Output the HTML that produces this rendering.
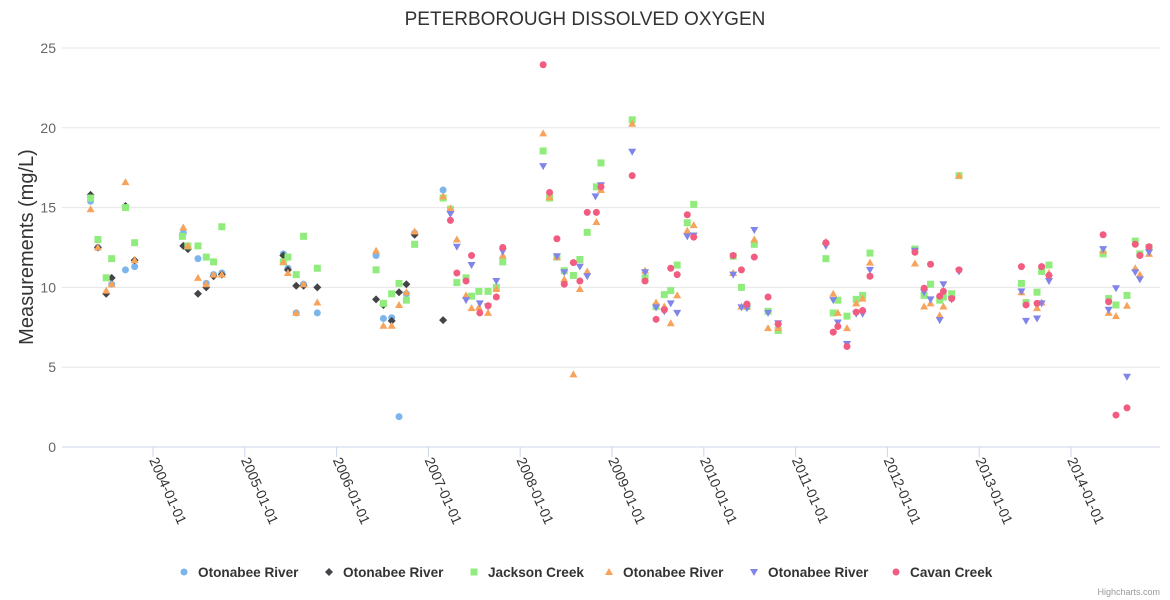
<!DOCTYPE html>
<html><head><meta charset="utf-8"><style>
body{margin:0;background:#fff;}
svg{display:block;font-family:"Liberation Sans",sans-serif;}
</style></head><body>
<svg id="chart" width="1170" height="600">
<text x="585" y="25" text-anchor="middle" font-size="19" fill="#333">PETERBOROUGH DISSOLVED OXYGEN</text>
<text transform="translate(33,247) rotate(-90)" text-anchor="middle" font-size="20" fill="#333">Measurements (mg/L)</text>
<g id="grid"></g><g id="xaxis"></g><g id="marks"></g><g id="legend"></g>
<text x="1160" y="595" text-anchor="end" font-size="9" fill="#999">Highcharts.com</text>
</svg>
<script>
const yTicks=[0,5,10,15,20,25];
const xTickYears=[2004,2005,2006,2007,2008,2009,2010,2011,2012,2013,2014];
const seriesNames=["Otonabee River","Otonabee River","Jackson Creek","Otonabee River","Otonabee River","Cavan Creek"];
const s0=[[2003.32,15.4],[2003.40,12.5],[2003.55,10.2],[2003.70,11.1],[2003.80,11.3],[2004.33,13.4],[2004.49,11.8],[2004.58,10.25],[2004.66,10.8],[2004.75,10.9],[2005.42,12.1],[2005.47,11.2],[2005.56,8.4],[2005.64,10.2],[2005.79,8.4],[2006.43,12.0],[2006.51,8.05],[2006.60,8.1],[2006.68,1.9],[2006.76,9.6],[2006.85,13.4],[2007.16,16.1]];
const s1=[[2003.32,15.8],[2003.40,12.5],[2003.49,9.6],[2003.55,10.6],[2003.70,15.1],[2003.80,11.7],[2004.33,12.6],[2004.38,12.4],[2004.49,9.6],[2004.58,10.0],[2004.66,10.7],[2004.75,10.8],[2005.42,12.0],[2005.47,11.1],[2005.56,10.1],[2005.64,10.1],[2005.79,10.0],[2006.43,9.25],[2006.51,8.9],[2006.60,7.9],[2006.68,9.7],[2006.76,10.2],[2006.85,13.3],[2007.16,7.95]];
const s2=[[2003.32,15.6],[2003.40,13.0],[2003.49,10.6],[2003.55,11.8],[2003.70,15.0],[2003.80,12.8],[2004.32,13.2],[2004.38,12.6],[2004.49,12.6],[2004.58,11.9],[2004.66,11.6],[2004.75,13.8],[2005.42,11.6],[2005.47,11.9],[2005.56,10.8],[2005.64,13.2],[2005.79,11.2],[2006.43,11.1],[2006.51,9.0],[2006.60,9.6],[2006.68,10.25],[2006.76,9.2],[2006.85,12.7],[2007.16,15.6],[2007.24,14.9],[2007.31,10.3],[2007.41,10.6],[2007.47,9.45],[2007.55,9.75],[2007.65,9.75],[2007.74,10.0],[2007.81,11.6],[2008.25,18.55],[2008.32,15.6],[2008.40,11.9],[2008.48,11.05],[2008.58,10.75],[2008.65,11.75],[2008.73,13.45],[2008.83,16.3],[2008.88,17.8],[2009.22,20.5],[2009.36,10.6],[2009.48,8.8],[2009.57,9.55],[2009.64,9.8],[2009.71,11.4],[2009.82,14.05],[2009.89,15.2],[2010.32,11.95],[2010.41,10.0],[2010.47,8.8],[2010.55,12.7],[2010.70,8.5],[2010.81,7.3],[2011.33,11.8],[2011.41,8.4],[2011.46,9.2],[2011.56,8.2],[2011.66,9.25],[2011.73,9.5],[2011.81,12.15],[2012.30,12.4],[2012.40,9.5],[2012.47,10.2],[2012.57,9.2],[2012.61,9.4],[2012.70,9.6],[2012.78,17.0],[2013.46,10.25],[2013.51,9.05],[2013.63,9.7],[2013.68,11.0],[2013.76,11.4],[2014.35,12.1],[2014.41,9.3],[2014.49,8.9],[2014.61,9.5],[2014.70,12.9],[2014.75,12.1],[2014.85,12.5]];
const s3=[[2003.32,14.9],[2003.40,12.5],[2003.49,9.8],[2003.55,10.2],[2003.70,16.6],[2003.80,11.7],[2004.33,13.75],[2004.38,12.6],[2004.49,10.6],[2004.58,10.2],[2004.66,10.8],[2004.75,10.8],[2005.42,11.6],[2005.47,10.9],[2005.56,8.4],[2005.64,10.2],[2005.79,9.05],[2006.43,12.3],[2006.51,7.6],[2006.60,7.6],[2006.68,8.9],[2006.76,9.7],[2006.85,13.5],[2007.16,15.7],[2007.24,14.95],[2007.31,13.0],[2007.41,9.5],[2007.47,8.7],[2007.55,8.75],[2007.65,8.4],[2007.74,9.9],[2007.81,12.0],[2008.25,19.65],[2008.32,15.65],[2008.40,11.9],[2008.48,10.5],[2008.58,4.55],[2008.65,9.9],[2008.73,11.0],[2008.83,14.1],[2008.88,16.1],[2009.22,20.25],[2009.36,11.05],[2009.48,9.05],[2009.57,8.8],[2009.64,7.75],[2009.71,9.5],[2009.82,13.55],[2009.89,13.9],[2010.32,10.9],[2010.41,8.8],[2010.47,8.8],[2010.55,13.0],[2010.70,7.45],[2010.81,7.45],[2011.33,12.85],[2011.41,9.6],[2011.46,8.4],[2011.56,7.45],[2011.66,9.0],[2011.73,9.3],[2011.81,11.55],[2012.30,11.5],[2012.40,8.8],[2012.47,9.0],[2012.57,8.25],[2012.61,8.8],[2012.78,17.0],[2013.46,9.7],[2013.63,8.7],[2013.68,9.05],[2013.76,10.9],[2014.35,12.3],[2014.41,8.4],[2014.49,8.2],[2014.61,8.85],[2014.70,11.2],[2014.75,10.8],[2014.85,12.1]];
const s4=[[2007.24,14.6],[2007.31,12.55],[2007.41,9.2],[2007.47,11.4],[2007.56,9.0],[2007.65,8.8],[2007.74,10.4],[2007.81,12.25],[2008.25,17.6],[2008.40,11.95],[2008.48,10.95],[2008.65,11.3],[2008.73,10.7],[2008.82,15.7],[2008.88,16.4],[2009.22,18.5],[2009.36,10.95],[2009.48,8.75],[2009.57,8.5],[2009.64,9.0],[2009.71,8.4],[2009.82,13.2],[2009.89,13.25],[2010.32,10.8],[2010.41,8.75],[2010.47,8.7],[2010.55,13.6],[2010.70,8.4],[2010.81,7.75],[2011.33,12.6],[2011.41,9.2],[2011.46,7.8],[2011.56,6.45],[2011.66,8.35],[2011.73,8.35],[2011.81,11.1],[2012.30,12.3],[2012.40,9.7],[2012.47,9.25],[2012.57,7.95],[2012.61,10.2],[2012.70,9.25],[2012.78,11.0],[2013.46,9.75],[2013.51,7.9],[2013.63,8.05],[2013.68,9.0],[2013.76,10.4],[2014.35,12.4],[2014.41,8.6],[2014.49,9.95],[2014.61,4.4],[2014.70,10.95],[2014.75,10.5],[2014.85,12.2]];
const s5=[[2007.24,14.2],[2007.31,10.9],[2007.41,10.4],[2007.47,12.0],[2007.56,8.4],[2007.65,8.85],[2007.74,9.4],[2007.81,12.5],[2008.25,23.95],[2008.32,15.95],[2008.40,13.05],[2008.48,10.2],[2008.58,11.55],[2008.65,10.4],[2008.73,14.7],[2008.83,14.7],[2008.88,16.3],[2009.22,17.0],[2009.36,10.4],[2009.48,8.0],[2009.57,8.6],[2009.64,11.2],[2009.71,10.8],[2009.82,14.55],[2009.89,13.15],[2010.32,12.0],[2010.41,11.1],[2010.47,8.95],[2010.55,11.9],[2010.70,9.4],[2010.81,7.7],[2011.33,12.8],[2011.41,7.2],[2011.46,7.55],[2011.56,6.3],[2011.66,8.45],[2011.73,8.55],[2011.81,10.7],[2012.30,12.2],[2012.40,9.95],[2012.47,11.45],[2012.57,9.45],[2012.61,9.75],[2012.70,9.3],[2012.78,11.1],[2013.46,11.3],[2013.51,8.9],[2013.63,9.0],[2013.68,11.3],[2013.76,10.75],[2014.35,13.3],[2014.41,9.1],[2014.49,2.0],[2014.61,2.45],[2014.70,12.7],[2014.75,12.0],[2014.85,12.55]];
const NS="http://www.w3.org/2000/svg";
const X0=62,X1=1160,Y0=447,Y1=48;
function xs(yr){return 153+(yr-2004)*91.8;}
function ys(v){return Y0-(v/25)*(Y0-Y1);}
function el(t,a,p){const e=document.createElementNS(NS,t);for(const k in a)e.setAttribute(k,a[k]);p.appendChild(e);return e;}
const grid=document.getElementById('grid');
yTicks.forEach(v=>{
 const l=el('line',{x1:X0,x2:X1,y1:ys(v),y2:ys(v),stroke:v===0?'#ccd6eb':'#e6e6e6','stroke-width':1},grid);
 
 
 const t=el('text',{x:56,y:ys(v)+5,'text-anchor':'end','font-size':14,fill:'#666'},grid);
 t.textContent=v;
 
 
});
const xa=document.getElementById('xaxis');
xTickYears.forEach(y=>{
 const x=xs(y);
 const l=el('line',{x1:x,x2:x,y1:Y0,y2:Y0+10,stroke:'#ccd6eb'},xa);
 
 
 const t=el('text',{transform:`translate(${x-4},${Y0+13}) rotate(66)`,'font-size':14,fill:'#333'},xa);
 t.textContent=y+'-01-01';
 
 
});
const colors=['#7cb5ec','#434348','#90ed7d','#f7a35c','#8085e9','#f15c80'];
function marker(i,x,y,p){
 const c=colors[i];
 if(i===0||i===5)return el('circle',{cx:x,cy:y,r:3.5,fill:c},p);
 if(i===1)return el('path',{d:`M${x} ${y-4}L${x+4} ${y}L${x} ${y+4}L${x-4} ${y}Z`,fill:c},p);
 if(i===2)return el('rect',{x:x-3.5,y:y-3.5,width:7,height:7,fill:c},p);
 if(i===3)return el('path',{d:`M${x} ${y-4}L${x+4} ${y+3}L${x-4} ${y+3}Z`,fill:c},p);
 return el('path',{d:`M${x} ${y+4}L${x+4} ${y-3}L${x-4} ${y-3}Z`,fill:c},p);
}
const marks=document.getElementById('marks');
[s0,s1,s2,s3,s4,s5].forEach((s,i)=>{
 s.forEach(d=>{
  const m=marker(i,xs(d[0]),ys(d[1]),marks);
  
  
 });
});
const lg=document.getElementById('legend');
const lx=[184,329,474,609,754,896];
seriesNames.forEach((n,i)=>{
 const g=el('g',{},lg);
 
 
 marker(i,lx[i],572,g);
 const t=el('text',{x:lx[i]+14,y:577,'font-size':13.6,'font-weight':'bold',fill:'#333'},g);
 t.textContent=n;
});
</script>
</body></html>
